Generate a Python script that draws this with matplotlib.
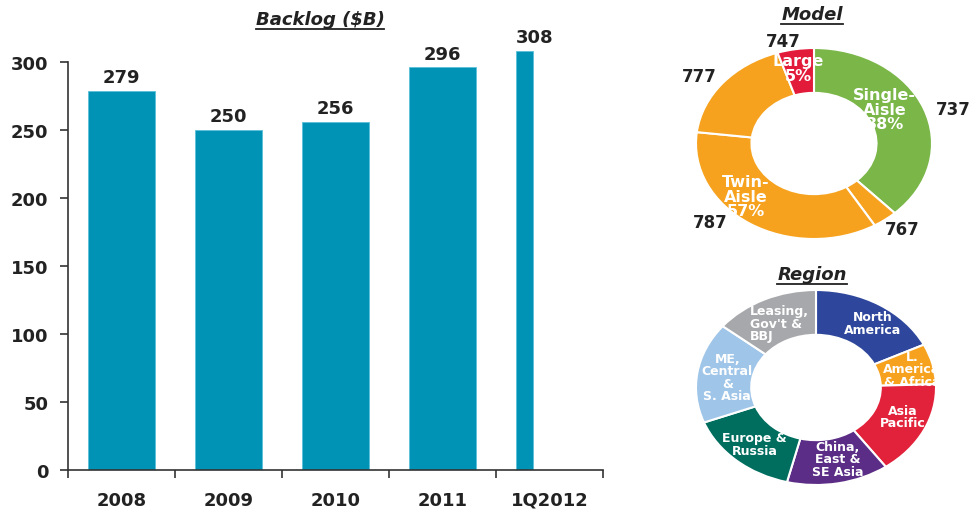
import matplotlib
matplotlib.use("Agg")
import matplotlib.pyplot as plt
from matplotlib.lines import Line2D

# wide sans to match the stretched look of the original
plt.rcParams['font.family'] = ['DejaVu Sans']

## backlog bars
years = ["2008", "2009", "2010", "2011", "1Q2012"]
backlog = [279, 250, 256, 296, 308]
period_frac = [1, 1, 1, 1, 0.25]   # share of the year covered

## model donut
model_names = ["737", "767", "787", "777", "747"]
model_share = [38.0, 3.4, 35.5, 18.1, 5.0]
model_colors = ["#7ab648", "#f6a21e", "#f6a21e", "#f6a21e", "#e31b3b"]

## region donut
region_names = ["North\nAmerica", "L.\nAmerica\n& Africa", "Asia\nPacific",
                "China,\nEast &\nSE Asia", "Europe &\nRussia",
                "ME,\nCentral\n&\nS. Asia", "Leasing,\nGov't &\nBBJ"]
region_share = [17.8, 6.7, 15.7, 13.8, 15.3, 16.7, 14.2]
region_colors = ["#2e479c", "#f6a21e", "#e2213a", "#5b2d86", "#006e5f",
                 "#9fc5e8", "#a6a8ab"]

dark = "#222222"
W, H = 972, 510
fig = plt.figure(figsize=(W / 100, H / 100), dpi=100)


def fx(px):
    return px / W


def fy(py):
    return 1 - py / H


##Bar chart
ax = fig.add_axes([fx(68), fy(471), fx(535), 435.2 / H])
bw = 0.635
for i, (v, f) in enumerate(zip(backlog, period_frac)):
    left = i - bw / 2
    ax.bar(left, v, width=bw * f, align='edge', color="#0093b6",
           edgecolor="#5cc0da", linewidth=0.6)
    if f < 1:
        ax.annotate(str(v), (left, v), xytext=(0, 3.5), textcoords='offset points',
                    ha='left', va='bottom', fontsize=13, fontweight='bold', color=dark)
    else:
        ax.annotate(str(v), (left + bw / 2, v), xytext=(0, 3.5),
                    textcoords='offset points', ha='center', va='bottom',
                    fontsize=13, fontweight='bold', color=dark)
ax.set_xlim(-0.5, len(years) - 0.5)
ax.set_ylim(0, 320)
ax.set_yticks([0, 50, 100, 150, 200, 250, 300])
ax.spines['left'].set_bounds(0, 300)
ax.spines['top'].set_visible(False)
ax.spines['right'].set_visible(False)
for s in ['left', 'bottom']:
    ax.spines[s].set_color("#333333")
    ax.spines[s].set_linewidth(1.2)
ax.set_xticks([i - 0.5 for i in range(len(years) + 1)])
ax.set_xticklabels([])
ax.set_xticks(range(len(years)), minor=True)
ax.set_xticklabels(years, minor=True)
ax.tick_params(axis='x', which='major', length=6, width=1.2, color="#333333")
ax.tick_params(axis='x', which='minor', length=0, pad=15, labelsize=13,
               labelcolor=dark)
ax.tick_params(axis='y', length=6, width=1.2, color="#333333", pad=8,
               labelsize=13, labelcolor=dark)
for lab in ax.get_xticklabels(minor=True) + ax.get_yticklabels():
    lab.set_fontweight('bold')

titles = []
titles.append(fig.text(fx(320), fy(20), r"Backlog (\$B)", ha='center', va='center',
                       fontsize=13, fontweight='bold', fontstyle='italic', color=dark))


##Model donut
ax2 = fig.add_axes([fx(696), fy(240), fx(236), 191 / H])
wedges, _ = ax2.pie(model_share, colors=model_colors, startangle=90,
                    counterclock=False, radius=1,
                    wedgeprops=dict(width=0.47, edgecolor='white', linewidth=1.5))
ax2.set_aspect('auto')
ax2.set_xlim(-1, 1)
ax2.set_ylim(-1, 1)
inner = [("Single-\nAisle\n38%", 0.60, 0.36), ("Twin-\nAisle\n57%", -0.58, -0.55),
         ("Large\n5%", -0.13, 0.79)]
for t, x, y in inner:
    ax2.text(x, y, t, ha='center', va='center', color='white', fontsize=11.5,
             fontweight='bold', linespacing=0.95)
outer_pos = [(1.18, 0.36), (0.75, -0.90), (-0.88, -0.82), (-0.97, 0.71), (-0.26, 1.07)]
for name, (x, y) in zip(model_names, outer_pos):
    ax2.text(x, y, name, ha='center', va='center', color=dark, fontsize=12,
             fontweight='bold')
titles.append(fig.text(fx(812), fy(15), "Model", ha='center', va='center',
                       fontsize=13, fontweight='bold', fontstyle='italic', color=dark))


##Region donut
ax3 = fig.add_axes([fx(696), fy(486), fx(240), 195 / H])
rwedges, _ = ax3.pie(region_share, colors=region_colors, startangle=90,
                     counterclock=False, radius=1,
                     wedgeprops=dict(width=0.46, edgecolor='white', linewidth=1.5))
ax3.set_aspect('auto')
ax3.set_xlim(-1, 1)
ax3.set_ylim(-1, 1)
region_pos = [(0.47, 0.66, 'center'), (0.80, 0.19, 'center'), (0.72, -0.30, 'center'),
              (0.18, -0.73, 'center'), (-0.51, -0.58, 'center'),
              (-0.74, 0.11, 'center'), (-0.55, 0.66, 'left')]
for k, (name, (x, y, ha)) in enumerate(zip(region_names, region_pos)):
    t = ax3.text(x, y, name, ha=ha, va='center', ma=ha, color='white',
                 fontsize=9, fontweight='bold', linespacing=0.95)
    if k == 1:
        # this label runs past the outer edge of its slice in the original
        t.set_clip_path(rwedges[k])
titles.append(fig.text(fx(812), fy(275), "Region", ha='center', va='center',
                       fontsize=13, fontweight='bold', fontstyle='italic', color=dark))

##underline the titles
fig.canvas.draw()
r = fig.canvas.get_renderer()
for t in titles:
    bb = t.get_window_extent(r)
    yl = bb.y0 - 1
    fig.lines.append(Line2D([bb.x0 / W, bb.x1 / W], [yl / H, yl / H],
                            transform=fig.transFigure, color=dark, linewidth=1.3))

fig.savefig("out.png", dpi=100)
